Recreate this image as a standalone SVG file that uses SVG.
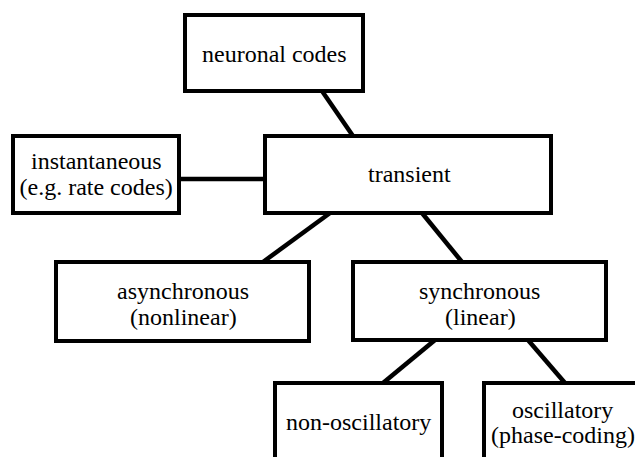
<svg xmlns="http://www.w3.org/2000/svg" width="635" height="457" viewBox="0 0 635 457">
<style>
svg text, g text, [id] text { font-family: 'Liberation Serif' !important; }
</style>
<rect width="635" height="457" fill="#fff"/>
<g id="connectors" stroke="#000" stroke-width="4.5" fill="none">
<line x1="322" y1="91" x2="353" y2="136"/>
<line x1="179" y1="179" x2="265" y2="179"/>
<line x1="330" y1="213" x2="263" y2="262"/>
<line x1="422" y1="213" x2="462" y2="262"/>
<line x1="435" y1="340" x2="383" y2="383"/>
<line x1="528" y1="340" x2="565" y2="383"/>
</g>
<g id="neuronal-codes">
<rect x="185" y="15" width="178" height="76" fill="#fff" stroke="#000" stroke-width="4"/>
<text x="202" y="62" font-size="24" font-family="Liberation Serif" style="font-family:'Liberation Serif' !important">neuronal codes</text>
</g>
<g id="transient">
<rect x="265" y="136" width="286" height="77" fill="#fff" stroke="#000" stroke-width="4"/>
<text x="368" y="182" font-size="24" font-family="Liberation Serif" style="font-family:'Liberation Serif' !important">transient</text>
</g>
<g id="instantaneous">
<rect x="13" y="136" width="166" height="77" fill="#fff" stroke="#000" stroke-width="4"/>
<text x="31" y="169" font-size="24" font-family="Liberation Serif" style="font-family:'Liberation Serif' !important">instantaneous</text>
<text x="19.5" y="195" font-size="24" font-family="Liberation Serif" style="font-family:'Liberation Serif' !important">(e.g. rate codes)</text>
</g>
<g id="asynchronous">
<rect x="56" y="262" width="253" height="79" fill="#fff" stroke="#000" stroke-width="4"/>
<text x="117" y="299" font-size="24" font-family="Liberation Serif" style="font-family:'Liberation Serif' !important">asynchronous</text>
<text x="130" y="325" font-size="24" font-family="Liberation Serif" style="font-family:'Liberation Serif' !important">(nonlinear)</text>
</g>
<g id="synchronous">
<rect x="353" y="262" width="253" height="78" fill="#fff" stroke="#000" stroke-width="4"/>
<text x="419" y="299" font-size="24" font-family="Liberation Serif" style="font-family:'Liberation Serif' !important">synchronous</text>
<text x="445" y="325" font-size="24" font-family="Liberation Serif" style="font-family:'Liberation Serif' !important">(linear)</text>
</g>
<g id="non-oscillatory">
<rect x="275" y="383" width="167" height="100" fill="#fff" stroke="#000" stroke-width="4"/>
<text x="286" y="430" font-size="24" font-family="Liberation Serif" style="font-family:'Liberation Serif' !important">non-oscillatory</text>
</g>
<g id="oscillatory">
<rect x="484" y="383" width="160" height="100" fill="#fff" stroke="#000" stroke-width="4"/>
<text x="512" y="418" font-size="24" font-family="Liberation Serif" style="font-family:'Liberation Serif' !important">oscillatory</text>
<text x="491" y="443" font-size="24" font-family="Liberation Serif" style="font-family:'Liberation Serif' !important">(phase-coding)</text>
</g>
</svg>
